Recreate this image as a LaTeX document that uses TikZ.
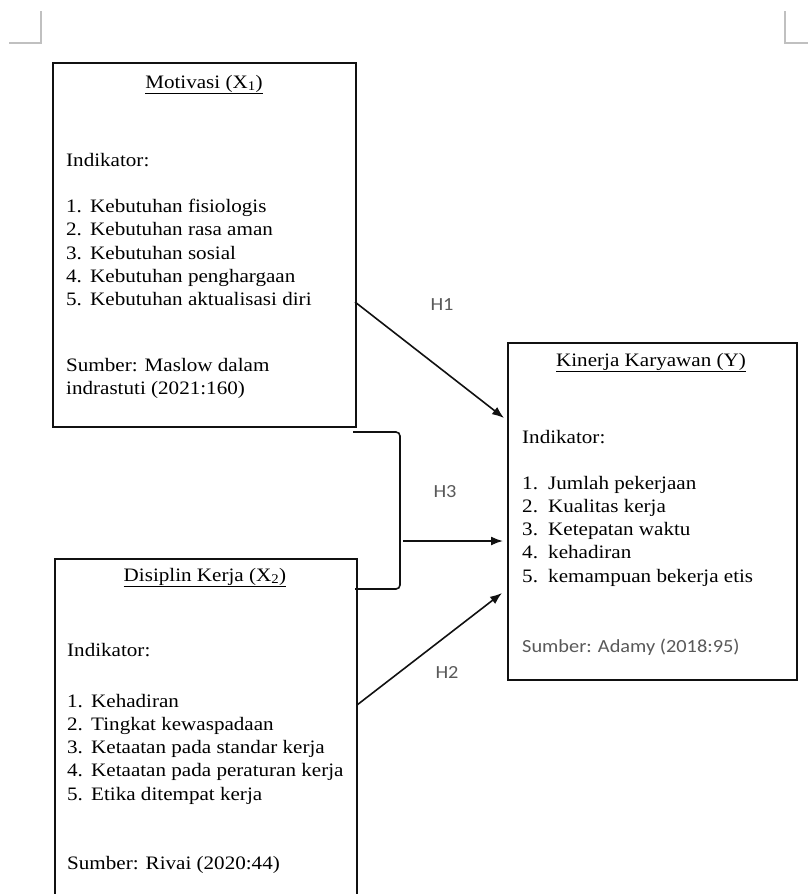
\documentclass[tikz,border=0pt]{standalone}
\usepackage{fontspec}
\setmainfont{Liberation Serif}[FakeStretch=1.11]
\newfontfamily\notefont{Carlito}[FakeStretch=1.1]
\usetikzlibrary{positioning,arrows.meta}
\definecolor{InkBlack}{HTML}{111111}
\definecolor{NoteGray}{HTML}{595959}
\definecolor{MarkGray}{HTML}{C0C0C0}

\begin{document}
\begin{tikzpicture}[x=1pt,y=-1pt,
          box/.style={draw=InkBlack,line width=1.6pt,inner sep=0pt,
                      outer sep=0pt,anchor=north west},
          txt/.style={anchor=base west,inner sep=0pt,
                      font=\fontsize{19}{23}\selectfont},
          ttl/.style={anchor=base,inner sep=0pt,
                      font=\fontsize{19}{23}\selectfont},
          note/.style={anchor=base west,inner sep=0pt,text=NoteGray,
                       font=\notefont\fontsize{18.5}{22}\selectfont},
          hlab/.style={inner sep=0pt,text=NoteGray,
                       font=\notefont\fontsize{18.5}{22}\selectfont},
          link/.style={draw=InkBlack,line width=1.6pt,
                       -{Latex[length=12pt,width=9pt]}}]
        \clip (0,0) rectangle (808,894);
        % page corner marks
        \draw[MarkGray,line width=1.4pt] (9,43) -- (41,43) -- (41,11);
        \draw[MarkGray,line width=1.4pt] (785,11) -- (785,43) -- (810,43);
        % boxes
        \node[box,minimum width=303pt,minimum height=364pt] (mot) at (53,63) {};
        \node[box,minimum width=302pt,minimum height=400pt] (dis) at (55,559) {};
        \node[box,minimum width=289pt,minimum height=337pt] (kin) at (508,343) {};
        % Motivasi
        \node[ttl] (motT) at (204,88) {\underline{Motivasi (X\textsubscript{1})}};
        \node[txt] (motI) at (66,166) {Indikator:};
        \foreach \n/\t in {1/Kebutuhan fisiologis,2/Kebutuhan rasa aman,
                           3/Kebutuhan sosial,4/Kebutuhan penghargaan,
                           5/Kebutuhan aktualisasi diri}{
          \node[txt] (motN\n) at (66,{212.5+23.3*(\n-1)}) {\n.};
          \node[txt] (motL\n) at (90,{212.5+23.3*(\n-1)}) {\t};
        }
        \node[txt] (motS1) at (66,371) {Sumber: Maslow dalam};
        \node[txt] (motS2) at (66,394) {indrastuti (2021:160)};
        % Disiplin Kerja
        \node[ttl] (disT) at (205,581) {\underline{Disiplin Kerja (X\textsubscript{2})}};
        \node[txt] (disI) at (67,656) {Indikator:};
        \foreach \n/\t in {1/Kehadiran,2/Tingkat kewaspadaan,
                           3/Ketaatan pada standar kerja,
                           4/Ketaatan pada peraturan kerja,
                           5/Etika ditempat kerja}{
          \node[txt] (disN\n) at (67,{707+23.3*(\n-1)}) {\n.};
          \node[txt] (disL\n) at (91,{707+23.3*(\n-1)}) {\t};
        }
        \node[txt] (disS) at (67,869) {Sumber: Rivai (2020:44)};
        % Kinerja Karyawan
        \node[ttl] (kinT) at (651,366) {\underline{Kinerja Karyawan (Y)}};
        \node[txt] (kinI) at (522,443) {Indikator:};
        \foreach \n/\t in {1/Jumlah pekerjaan,2/Kualitas kerja,
                           3/Ketepatan waktu,4/kehadiran,
                           5/kemampuan bekerja etis}{
          \node[txt] (kinN\n) at (522,{489+23.3*(\n-1)}) {\n.};
          \node[txt] (kinL\n) at (548,{489+23.3*(\n-1)}) {\t};
        }
        \node[note] (kinS) at (522,652) {Sumber: Adamy (2018:95)};
        % hypotheses
        \coordinate (h1a) at (355,302);
        \coordinate (h1b) at (504,418);
        \coordinate (h3a) at (403,541);
        \coordinate (h3b) at (503,541);
        \coordinate (h2a) at (357,705);
        \coordinate (h2b) at (502,593);
        \coordinate (brA) at (353,432);
        \coordinate (brB) at (400,432);
        \coordinate (brC) at (400,589);
        \coordinate (brD) at (355,589);
        \draw[link] (h1a) -- (h1b);
        \draw[link] (h3a) -- (h3b);
        \draw[link] (h2a) -- (h2b);
        \draw[InkBlack,line width=1.6pt,rounded corners=4pt]
             (brA) -- (brB) -- (brC) -- (brD);
        \node[hlab] (H1) at (442,305) {H1};
        \node[hlab] (H3) at (445,492) {H3};
        \node[hlab] (H2) at (447,672) {H2};
      \end{tikzpicture}
\end{document}
